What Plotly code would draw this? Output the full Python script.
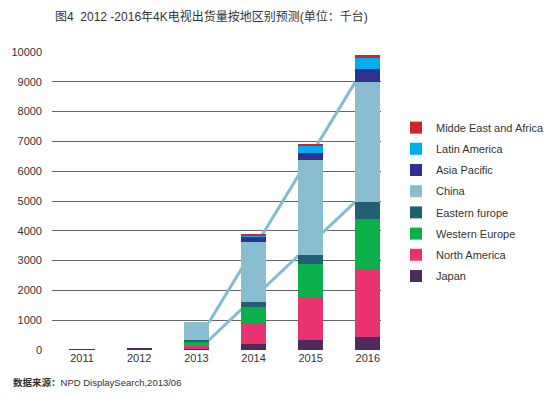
import plotly.graph_objects as go
from itertools import accumulate

years = ["2011", "2012", "2013", "2014", "2015", "2016"]
series_names = ["Japan", "North America", "Western Europe", "Eastern furope",
                "China", "Asia Pacific", "Latin America", "Midde East and Africa"]
japan = [30, 40, 35, 200, 335, 450]
north_america = [0, 0, 115, 715, 1430, 2230]
western_europe = [0, 0, 150, 515, 1115, 1730]
eastern_europe = [0, 0, 35, 190, 300, 560]
china = [0, 0, 595, 2010, 3185, 4020]
asia_pacific = [0, 0, 0, 168, 245, 450]
latin_america = [0, 0, 0, 55, 225, 390]
mea = [0, 0, 0, 55, 90, 65]
series_values = [japan, north_america, western_europe, eastern_europe,
                 china, asia_pacific, latin_america, mea]
colors = ["#4f2a5c", "#e8336f", "#0bb04b", "#235f74",
          "#8bbdd0", "#2e3192", "#00aeef", "#d2232a"]
y_ticks = [0, 1000, 2000, 3000, 4000, 5000, 6000, 7000, 8000, 9000, 10000]

FONT = "Liberation Sans, Arial, Noto Sans CJK SC, sans-serif"
BAR_W = 0.44
xpos = list(range(len(years)))

fig = go.Figure()

# trend lines (drawn on base axes, beneath the bars)
cum = [list(accumulate(col)) for col in zip(*series_values)]
china_idx = series_names.index("China")
i0, i1 = years.index("2013"), years.index("2016")
upper = [cum[i0][-1], cum[i1][china_idx]]
lower = [cum[i0][china_idx - 1], cum[i1][china_idx - 1]]
lx = [xpos[i0] + BAR_W / 2, xpos[i1] - BAR_W / 2]
for ys in (upper, lower):
    fig.add_trace(go.Scatter(x=lx, y=ys, mode="lines", showlegend=False,
                             line=dict(color="#84bcd0", width=3),
                             hoverinfo="skip", xaxis="x", yaxis="y"))

n = len(series_names)
for i, (name, vals, c) in enumerate(zip(series_names, series_values, colors)):
    fig.add_trace(go.Bar(x=xpos, y=vals, name=name, marker_color=c,
                         marker_line_width=0, width=BAR_W,
                         legendgroup=f"g{i}", legendrank=n - i,
                         xaxis="x2", yaxis="y2"))

xr = [-0.526, 5.23]
yr = [0, 10000]
fig.update_layout(
    width=550, height=394,
    barmode="stack",
    paper_bgcolor="white", plot_bgcolor="white",
    margin=dict(l=52, r=169, t=52, b=44, autoexpand=False),
    font=dict(family=FONT, size=11, color="#333"),
    title=dict(text="图4  2012 -2016年4K电视出货量按地区别预测(单位：千台)",
               x=0.1, xanchor="left", y=0.957, yanchor="middle",
               font=dict(family=FONT, size=12, color="#333")),
    xaxis=dict(range=xr, tickvals=xpos, ticktext=years, showgrid=False,
               zeroline=False, showline=False, ticks="",
               tickfont=dict(size=11, color="#333")),
    yaxis=dict(range=yr, tickvals=y_ticks, ticktext=[str(v) for v in y_ticks],
               showgrid=True, gridcolor="#666",
               gridwidth=1, zeroline=False, showline=False, ticks="",
               ticklabelstandoff=9, tickfont=dict(size=11, color="#333")),
    xaxis2=dict(range=xr, overlaying="x", visible=False),
    yaxis2=dict(range=yr, overlaying="y", visible=False),
    legend=dict(xref="container", x=0.72, y=0.795, xanchor="left", yanchor="top",
                traceorder="grouped", tracegroupgap=2.2,
                font=dict(size=11, color="#333"), bgcolor="rgba(0,0,0,0)"),
    showlegend=True,
    annotations=[dict(text="<b>数据来源：</b>NPD DisplaySearch,2013/06",
                      xref="paper", yref="paper", x=-0.125, y=-0.11,
                      xanchor="left", yanchor="middle", showarrow=False,
                      font=dict(family=FONT, size=9.5, color="#333"))],
)

fig.write_html("out.html", config={"displayModeBar": False},
               post_script="document.body.style.margin='0';")
